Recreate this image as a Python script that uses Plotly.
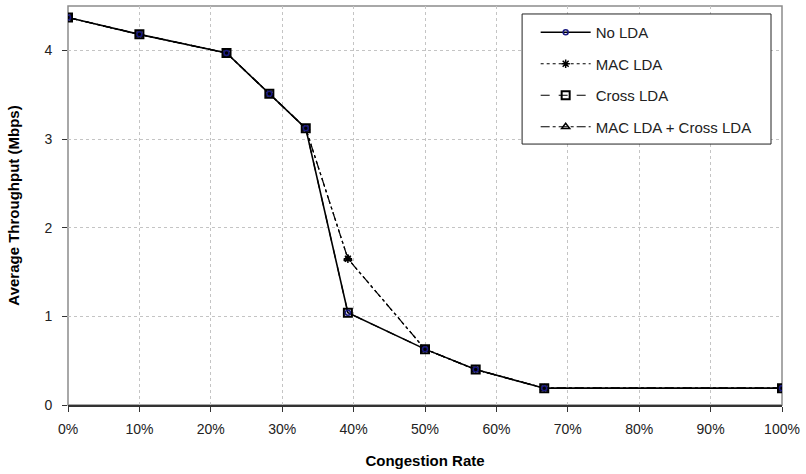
import plotly.graph_objects as go

congestion = [0.0, 0.10, 0.222, 0.282, 0.333, 0.392, 0.50, 0.571, 0.667, 1.0]
no_lda = [4.37, 4.18, 3.97, 3.51, 3.12, 1.04, 0.63, 0.40, 0.19, 0.19]
mac_lda = [4.37, 4.18, 3.97, 3.51, 3.12, 1.65, 0.63, 0.40, 0.19, 0.19]
cross_lda = [4.37, 4.18, 3.97, 3.51, 3.12, 1.04, 0.63, 0.40, 0.19, 0.19]
mac_cross_lda = [4.37, 4.18, 3.97, 3.51, 3.12, 1.65, 0.63, 0.40, 0.19, 0.19]

series_names = ["No LDA", "MAC LDA", "Cross LDA", "MAC LDA + Cross LDA"]

fig = go.Figure()
fig.add_trace(go.Scatter(
    x=congestion, y=mac_cross_lda, name=series_names[3], mode="lines+markers",
    line=dict(color="black", width=1.2, dash="dashdot"),
    marker=dict(symbol="triangle-up-open", size=7, color="black", line=dict(width=1.5)),
    legendgroup="d", legendrank=4))
fig.add_trace(go.Scatter(
    x=congestion, y=mac_lda, name=series_names[1], mode="lines+markers",
    line=dict(color="black", width=1.2, dash="dot"),
    marker=dict(symbol="asterisk-open", size=7, color="black", line=dict(width=1.5)),
    legendgroup="b", legendrank=2))
fig.add_trace(go.Scatter(
    x=congestion, y=cross_lda, name=series_names[2], mode="lines+markers",
    line=dict(color="black", width=1.2, dash="dash"),
    marker=dict(symbol="square-open", size=8, color="black", line=dict(width=2)),
    legendgroup="c", legendrank=3))
fig.add_trace(go.Scatter(
    x=congestion, y=no_lda, name=series_names[0], mode="lines+markers",
    line=dict(color="black", width=1.6),
    marker=dict(symbol="circle-open", size=5, color="#1a1a80", line=dict(width=1.5)),
    legendgroup="a", legendrank=1))

# plot-area border
fig.add_shape(type="rect", xref="paper", yref="paper", x0=0, x1=1, y0=0, y1=1,
              line=dict(color="#8c8c8c", width=1.5), layer="below")
# legend frame
fig.add_shape(type="rect", xref="paper", yref="paper", x0=0.636, x1=0.9846, y0=0.654, y1=0.98,
              line=dict(color="#222222", width=1), fillcolor="white", layer="above")

fig.update_layout(
    width=806, height=474,
    margin=dict(l=68, r=24, t=6, b=69),
    paper_bgcolor="white", plot_bgcolor="white",
    font=dict(family="Liberation Sans, Arial, sans-serif", size=14, color="#222222"),
    showlegend=True,
    legend=dict(
        x=0.655, y=0.975, xanchor="left", yanchor="top",
        bgcolor="rgba(0,0,0,0)", borderwidth=0,
        font=dict(size=15), tracegroupgap=9, traceorder="grouped",
        itemwidth=50,
    ),
    xaxis=dict(
        range=[0, 1], tickvals=[i / 10 for i in range(11)],
        tickformat=".0%", showgrid=True, gridcolor="#c4c4c4", griddash="dot",
        showline=True, linecolor="#333333", linewidth=1.5, mirror=False,
        ticks="outside", ticklen=5, tickcolor="#333333", zeroline=False,
        ticklabelstandoff=5,
        title=dict(text="<b>Congestion Rate</b>", font=dict(size=15, color="black"), standoff=20),
    ),
    yaxis=dict(
        range=[0, 4.5], tickvals=[0, 1, 2, 3, 4],
        showgrid=True, gridcolor="#c4c4c4", griddash="dot",
        showline=False,
        ticks="outside", ticklen=5, tickcolor="#333333", zeroline=False,
        ticklabelstandoff=7,
        title=dict(text="<b>Average Throughput (Mbps)</b>", font=dict(size=15, color="black"), standoff=21),
    ),
)

fig.write_html("out.html", config={"displayModeBar": False},
               post_script="document.body.style.margin='0';")
